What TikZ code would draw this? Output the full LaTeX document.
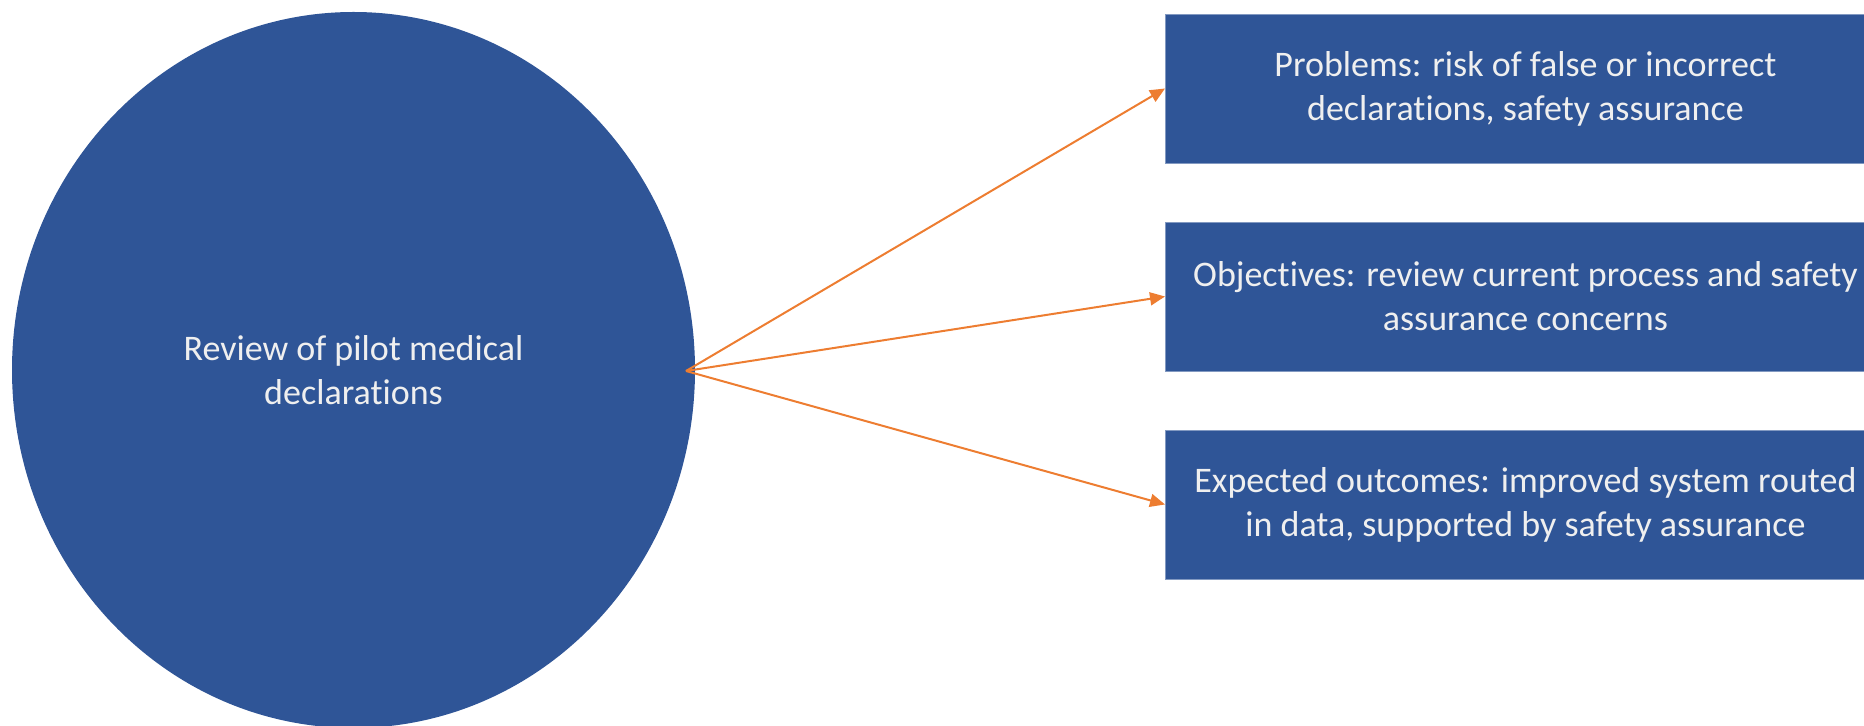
\documentclass[tikz,border=0pt]{standalone}
\usepackage{fontspec}
\setmainfont{Carlito}[Ligatures=NoCommon]
\usetikzlibrary{shapes.geometric,arrows.meta}
\definecolor{slideblue}{HTML}{2F5597}
\definecolor{slideorange}{HTML}{ED7D31}
\definecolor{slidetext}{HTML}{EFEFEF}
\begin{document}
\begin{tikzpicture}[
        x=0.5pt, y=-0.5pt,
        hub/.style={ellipse, fill=slideblue, text=slidetext, inner sep=0pt,
            minimum width=341.5pt, minimum height=358pt, align=center,
            font=\fontsize{18}{22}\selectfont},
        topic/.style={rectangle, fill=slideblue, draw=slideblue!60!white, line width=0.4pt,
            text=slidetext, inner sep=0pt, anchor=west,
            minimum width=360pt, minimum height=74.5pt, align=center,
            font=\fontsize{18}{22}\selectfont},
        link/.style={slideorange, line width=1pt, -{Triangle[length=7.5pt, width=6.5pt]}},
    ]
        \useasboundingbox (0,0) rectangle (1864,726);
        \begin{scope}
        \clip (0,0) rectangle (1864,726);

        \node[hub] (review) at (353.5,370) {Review of pilot medical\\declarations};

        \node[topic] (problems) at (1165,88.5) {Problems: risk of false or incorrect\\declarations, safety assurance};
        \node[topic] (objectives) at (1165,296.5) {Objectives: review current process and safety\\assurance concerns};
        \node[topic] (outcomes) at (1165,504.5) {Expected outcomes: improved system routed\\in data, supported by safety assurance};

        \coordinate (start) at (686,371);

        \draw[link] (start) -- (problems.west);
        \draw[link] (start) -- (objectives.west);
        \draw[link] (start) -- (outcomes.west);
        \end{scope}
    \end{tikzpicture}
\end{document}
